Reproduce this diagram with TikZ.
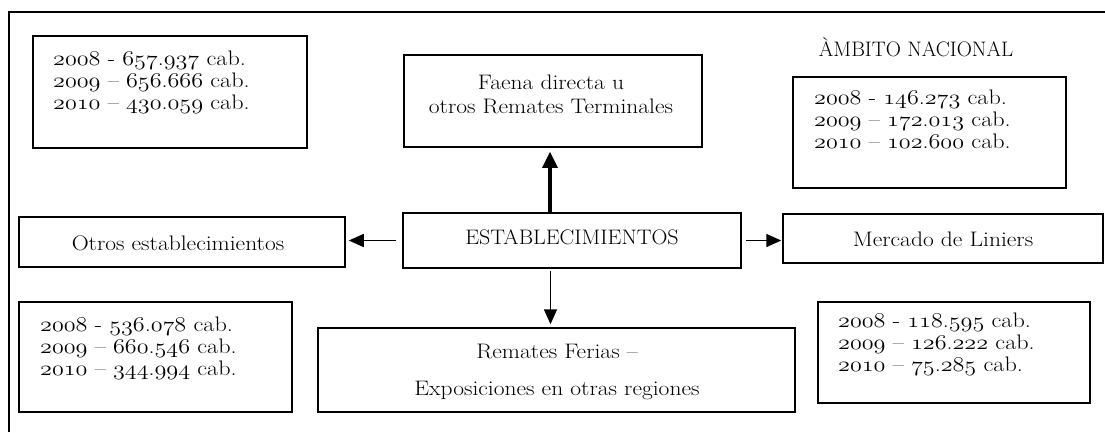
\documentclass[tikz,border=0pt]{standalone}
\usetikzlibrary{arrows.meta}
\DeclareFontFamily{OML}{osfm}{\skewchar\font'177}
\DeclareFontShape{OML}{osfm}{m}{it}{<->cmmi12}{}
\newcommand\osn[1]{{\usefont{OML}{osfm}{m}{it}#1}}
\newcommand\dline[4]{\scalebox{1.15}[1]{\osn{#1} #2 \osn{#3}.\osn{#4} cab.}}
\newcommand\wide[1]{\scalebox{1.12}[1]{#1}}
\begin{document}
\begin{tikzpicture}[x=1pt,y=-1pt,
  frameline/.style={line width=1.6pt},
  box/.style={draw, line width=1.5pt, inner sep=0pt},
  txt/.style={inner sep=0pt, font=\fontsize{21}{22}\selectfont, align=left},
  ctxt/.style={inner sep=0pt, font=\fontsize{21}{24}\selectfont, align=center},
  arr/.style={line width=1.6pt, -{Triangle[width=13pt,length=15pt]}},
  thickarr/.style={line width=3.3pt, -{Triangle[width=15pt,length=16pt]}}]
\useasboundingbox (0,0) rectangle (1105,432);
\draw[frameline] (9,432) -- (9,12) -- (1105,12);
% data boxes
\node[box, minimum width=274pt, minimum height=112pt] (boxA) at (170,92) {};
\node[txt, anchor=west] (txtA) at (53,82) {\dline{2008}{-}{657}{937}\\\dline{2009}{–}{656}{666}\\\dline{2010}{–}{430}{059}};
\node[box, minimum width=273pt, minimum height=111pt] (boxB) at (929.5,132.5) {};
\node[txt, anchor=west] (txtB) at (814,119) {\dline{2008}{-}{146}{273}\\\dline{2009}{–}{172}{013}\\\dline{2010}{–}{102}{600}};
\node[box, minimum width=273pt, minimum height=110pt] (boxC) at (155.5,357) {};
\node[txt, anchor=west] (txtC) at (40,348) {\dline{2008}{-}{536}{078}\\\dline{2009}{–}{660}{546}\\\dline{2010}{–}{344}{994}};
\node[box, minimum width=272pt, minimum height=101pt] (boxD) at (954,352.5) {};
\node[txt, anchor=west] (txtD) at (838,344) {\dline{2008}{-}{118}{595}\\\dline{2009}{–}{126}{222}\\\dline{2010}{–}{75}{285}};
\node[ctxt] (ambito) at (916,47) {ÀMBITO NACIONAL};
% main boxes
\node[box, minimum width=298pt, minimum height=92pt] (faena) at (553,101) {};
\node[ctxt] (faenatxt) at (551,94) {\wide{Faena directa u}\\\wide{otros Remates Terminales}};
\node[box, minimum width=338pt, minimum height=55pt] (estab) at (572,240.5) {};
\node[ctxt] (estabtxt) at (572,237) {\scalebox{1.05}[1]{ESTABLECIMIENTOS}};
\node[box, minimum width=326pt, minimum height=50pt] (otros) at (182,242) {};
\node[ctxt] (otrostxt) at (178,243) {\wide{Otros establecimientos}};
\node[box, minimum width=320pt, minimum height=49pt] (mercado) at (943,238.5) {};
\node[ctxt] (mercadotxt) at (943,239) {\wide{Mercado de Liniers}};
\node[box, minimum width=477pt, minimum height=84pt] (remates) at (556.5,370) {};
\node[ctxt] (rematestxt) at (557,372) {\wide{Remates Ferias –}\\[13pt]\wide{Exposiciones en otras regiones}};
% connectors
\draw[thickarr] ([xshift=-3pt]estab.north -| faena.south) -- ([xshift=-3pt,yshift=-4pt]faena.south);
\draw[arr] ([xshift=-6pt,yshift=-2pt]estab.south -| remates.north) -- ([xshift=-6pt,yshift=3pt]remates.north);
\draw[arr] ([xshift=-6pt]estab.west) -- ([xshift=3pt]otros.east |- estab.west);
\draw[arr] ([xshift=4pt]estab.east) -- ([xshift=-1pt]mercado.west |- estab.east);
\end{tikzpicture}
\end{document}
